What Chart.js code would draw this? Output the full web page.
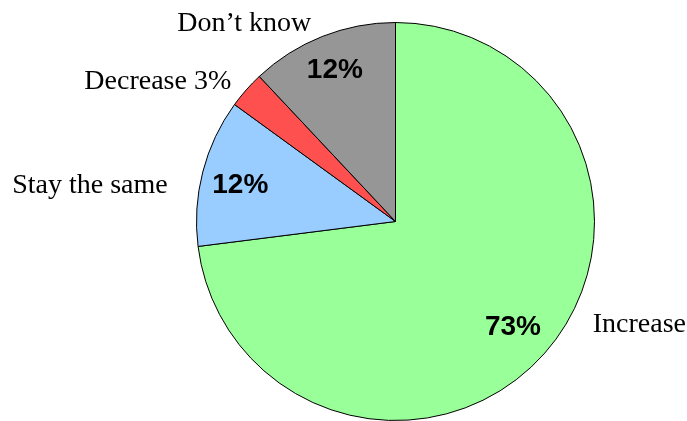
<!DOCTYPE html>
<html>
<head>
<meta charset="utf-8">
<script src="https://cdn.jsdelivr.net/npm/chart.js@4.4.0/dist/chart.umd.min.js"></script>
<style>
html,body{margin:0;padding:0;background:#fff;}
#wrap{width:687px;height:421px;position:relative;}
</style>
</head>
<body>
<div id="wrap"><canvas id="c" width="687" height="421"></canvas></div>
<script>
const categories = ['Increase', 'Stay the same', 'Decrease', 'Don\u2019t know'];
const values = [73, 12, 3, 12];
const outerLabels = ['Increase', 'Stay the same', 'Decrease 3%', 'Don\u2019t know'];
const innerLabels = ['73%', '12%', '', '12%'];
const sliceColors = ['#99FF99', '#99CCFF', '#FF5050', '#969696'];

const labelPlugin = {
  id: 'sliceLabels',
  afterDatasetsDraw(chart) {
    const ctx = chart.ctx;
    const meta = chart.getDatasetMeta(0);
    // per-label placement relative to slice edge point: [dx, dy, align]
    const outerPlace = [[48, -21, 'left'], [-35, 21, 'right'], [-15, -1, 'right'], [-11, -5, 'right']];
    const innerShift = [[-2, 1], [-1, 3], [0, 0], [-2, -3]];
    meta.data.forEach((arc, i) => {
      const p = arc.getProps(['x', 'y', 'startAngle', 'endAngle', 'outerRadius'], true);
      const mid = (p.startAngle + p.endAngle) / 2;
      const r = p.outerRadius;
      ctx.save();
      if (innerLabels[i]) {
        ctx.font = 'bold 28px "Liberation Sans", Arial, sans-serif';
        ctx.fillStyle = '#000';
        ctx.textAlign = 'center';
        ctx.textBaseline = 'middle';
        ctx.fillText(innerLabels[i], p.x + Math.cos(mid) * r * 0.8 + innerShift[i][0], p.y + Math.sin(mid) * r * 0.8 + innerShift[i][1]);
      }
      const ex = p.x + Math.cos(mid) * r;
      const ey = p.y + Math.sin(mid) * r;
      const pl = outerPlace[i];
      ctx.font = '28px "Liberation Serif", "Times New Roman", serif';
      ctx.fillStyle = '#000';
      ctx.textAlign = pl[2];
      ctx.textBaseline = 'alphabetic';
      ctx.fillText(outerLabels[i], ex + pl[0], ey + pl[1]);
      ctx.restore();
    });
  }
};

new Chart(document.getElementById('c'), {
  type: 'pie',
  data: {
    labels: categories,
    datasets: [{
      data: values,
      backgroundColor: sliceColors,
      borderColor: '#000',
      borderWidth: 1,
      hoverOffset: 0
    }]
  },
  options: {
    responsive: false,
    animation: false,
    layout: { padding: { left: 196, right: 92, top: 22, bottom: 0 } },
    plugins: { legend: { display: false }, tooltip: { enabled: false } }
  },
  plugins: [labelPlugin]
});
</script>
</body>
</html>
